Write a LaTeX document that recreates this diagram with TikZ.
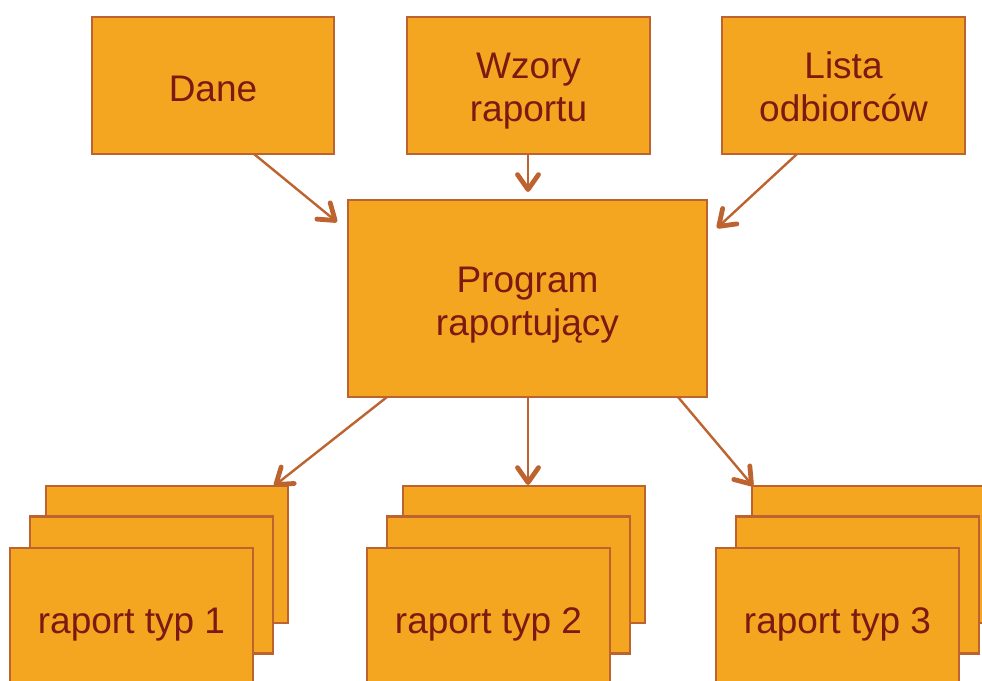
\documentclass[tikz,border=0pt]{standalone}
\usepackage{fontspec}
\setmainfont{Liberation Sans}
\usetikzlibrary{arrows.meta,calc}
\definecolor{boxfill}{HTML}{F4A620}
\definecolor{boxline}{HTML}{BD6330}
\definecolor{txt}{HTML}{7A1A12}
\tikzset{
  box/.style={draw=boxline, fill=boxfill, line width=2.2pt, inner sep=0pt},
  lbl/.style={anchor=base, inner sep=0pt, font=\fontsize{37}{43}\selectfont, text=txt},
  conn/.style={draw=boxline, line width=2.4pt,
    -{Straight Barb[length=15pt,width=21pt,line width=4.8pt,round]}}
}
\begin{document}
\begin{tikzpicture}[x=1pt,y=-1pt]
\useasboundingbox (0,0) rectangle (982,680);
\clip (0,0) rectangle (982,680);
% top row
\node[box, minimum width=242pt, minimum height=137pt] (dane) at (213,85.5) {};
\node[box, minimum width=243pt, minimum height=137pt] (wzory) at (528.5,85.5) {};
\node[box, minimum width=243pt, minimum height=137pt] (lista) at (843.5,85.5) {};
\node[lbl] (daneT) at (213,101) {Dane};
\node[lbl] (wzoryT1) at (528.5,78.5) {Wzory};
\node[lbl] (wzoryT2) at (528.5,121.5) {raportu};
\node[lbl] (listaT1) at (843.5,78.5) {Lista};
\node[lbl] (listaT2) at (843.5,121.5) {odbiorców};
% program
\node[box, minimum width=359pt, minimum height=197pt] (prog) at (527.5,298.5) {};
\node[lbl] (progT1) at (527.5,292) {Program};
\node[lbl] (progT2) at (527.5,335) {raportujący};
% stacks
\foreach \n/\dx in {1/0, 2/357, 3/706} {
  \node[box, minimum width=242pt, minimum height=137pt] (b\n) at (167+\dx,554.5) {};
  \node[box, minimum width=243pt, minimum height=137pt] (m\n) at (151.5+\dx,585) {};
  \node[box, minimum width=243pt, minimum height=137pt] (f\n) at (131.5+\dx,616.5) {};
  \node[lbl] (fT\n) at (131.5+\dx,633) {raport typ \n};
}
% arrow ends
\coordinate (d0) at (254,154);
\coordinate (d1) at (337,222);
\coordinate (w0) at (528,154);
\coordinate (w1) at (528,192);
\coordinate (l0) at (797,154);
\coordinate (l1) at (717,228);
\coordinate (p1) at (387,397);
\coordinate (t1) at (274,486);
\coordinate (p2) at (528,397);
\coordinate (t2) at (528,485);
\coordinate (p3) at (678,397);
\coordinate (t3) at (753,486);
\draw[conn] (d0) -- (d1);
\draw[conn] (w0) -- (w1);
\draw[conn] (l0) -- (l1);
\draw[conn] (p1) -- (t1);
\draw[conn] (p2) -- (t2);
\draw[conn] (p3) -- (t3);
\end{tikzpicture}
\end{document}
